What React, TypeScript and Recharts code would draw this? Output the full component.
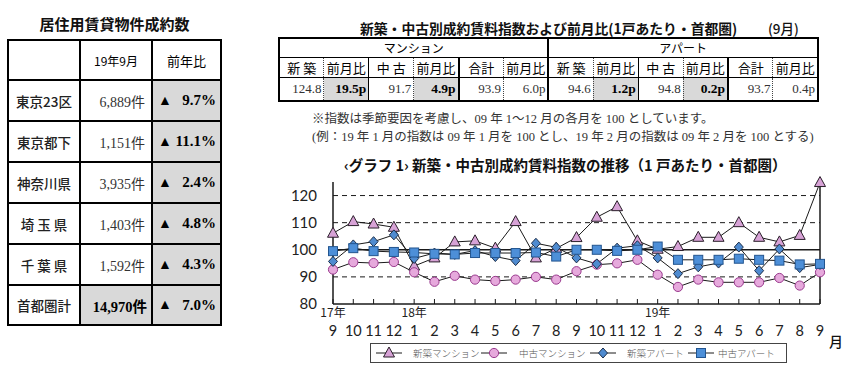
import React from 'react';
import { LineChart, Line, XAxis, YAxis, ReferenceLine } from 'recharts';

// months along the x axis, 17/9 .. 19/9
const months = ['9', '10', '11', '12', '1', '2', '3', '4', '5', '6', '7', '8', '9', '10', '11', '12', '1', '2', '3', '4', '5', '6', '7', '8', '9'];
const yearTickIdx = [0, 4, 16];
const yearTickText = ['17年', '18年', '19年'];
const yTicks = [80, 90, 100, 110, 120];

const shinchikuMansion = [106.1, 110.4, 109.5, 108.3, 94.0, 97.0, 102.9, 103.3, 100.6, 110.4, 97.0, 100.5, 104.5, 112.0, 115.9, 103.3, 100.2, 101.2, 104.6, 104.6, 110.0, 104.6, 102.9, 105.3, 124.8];
const chukoMansion = [92.7, 95.4, 95.1, 95.5, 91.7, 88.2, 90.4, 89.0, 88.5, 89.0, 90.0, 89.0, 92.1, 94.5, 95.0, 96.3, 90.8, 86.3, 89.0, 88.0, 88.0, 88.0, 89.6, 86.8, 91.7];
const shinchikuApart = [95.7, 101.8, 103.0, 105.5, 96.8, 98.8, 98.3, 99.7, 97.5, 96.0, 102.4, 100.9, 97.0, 94.8, 100.6, 101.5, 97.0, 91.2, 93.7, 95.1, 101.0, 92.3, 100.3, 93.4, 94.6];
const chukoApart = [99.5, 100.6, 99.5, 99.2, 99.0, 98.5, 98.3, 98.8, 98.8, 98.8, 99.0, 97.5, 100.0, 100.0, 99.6, 100.0, 101.2, 96.3, 96.3, 96.3, 96.7, 96.3, 96.0, 94.6, 94.8];

const seriesNames = ['新築マンション', '中古マンション', '新築アパート', '中古アパート'];

// left table
const areas = ['東京23区', '東京都下', '神奈川県', '埼 玉 県', '千 葉 県'];
const contracts = ['6,889件', '1,151件', '3,935件', '1,403件', '1,592件'];
const yoy = ['9.7%', '11.1%', '2.4%', '4.8%', '4.3%'];
const totalContracts = '14,970件';
const totalYoy = '7.0%';

// right table
const idxHeads = ['新 築', '前月比', '中 古', '前月比', '合計', '前月比', '新 築', '前月比', '中 古', '前月比', '合計', '前月比'];
const idxValues = ['124.8', '19.5p', '91.7', '4.9p', '93.9', '6.0p', '94.6', '1.2p', '94.8', '0.2p', '93.7', '0.4p'];
const idxBold = [false, true, false, true, false, false, false, true, false, true, false, false];

const data = months.map((m, i) => ({
  idx: i,
  sm: shinchikuMansion[i],
  cm: chukoMansion[i],
  sa: shinchikuApart[i],
  ca: chukoApart[i],
}));

const GOTHIC = '"Noto Sans CJK JP", "Noto Sans", sans-serif';
const MINCHO = '"Liberation Serif", "Noto Sans CJK JP", serif';
const LINE = '#1a1a1a';

const COL = {
  tri: '#d7a2d6',
  circ: '#e6a9dc',
  circStroke: '#9a3a8e',
  dia: '#4f8bd0',
  sq: '#4d8fd8',
  sqStroke: '#23558f',
};

const triShape = (cx: number, cy: number, key?: string) => (
  <path key={key} d={`M${cx},${cy - 6}L${cx + 5.5},${cy + 4}L${cx - 5.5},${cy + 4}Z`} fill={COL.tri} stroke="#2a1f2a" strokeWidth={1} />
);
const circShape = (cx: number, cy: number, key?: string) => (
  <circle key={key} cx={cx} cy={cy} r={4.6} fill={COL.circ} stroke={COL.circStroke} strokeWidth={1} />
);
const diaShape = (cx: number, cy: number, key?: string) => (
  <path key={key} d={`M${cx},${cy - 5}L${cx + 4.5},${cy}L${cx},${cy + 5}L${cx - 4.5},${cy}Z`} fill={COL.dia} stroke="#1d2f4a" strokeWidth={1} />
);
const sqShape = (cx: number, cy: number, key?: string) => (
  <rect key={key} x={cx - 4.5} y={cy - 4.5} width={9} height={9} fill={COL.sq} stroke={COL.sqStroke} strokeWidth={1} />
);
const shapes = [triShape, circShape, diaShape, sqShape];

const MonthTick = (props: any) => {
  const { x, y, payload } = props;
  const i = payload.value;
  const yi = yearTickIdx.indexOf(i);
  return (
    <g>
      <line x1={x} x2={x} y1={y - 5} y2={y} stroke={LINE} strokeWidth={1} />
      {yi >= 0 && (
        <text x={x} y={y + 13} textAnchor="middle" fontSize={12} fill="#222" fontFamily={GOTHIC}>
          {yearTickText[yi]}
        </text>
      )}
      <text x={x} y={y + 31.5} textAnchor="middle" fontSize={14.5} fill="#222" fontFamily='Lato, "Noto Sans", sans-serif'>
        {months[i]}
      </text>
    </g>
  );
};

const cell: React.CSSProperties = {
  border: '2px solid #000',
  padding: 0,
  boxSizing: 'border-box',
};

function LeftTable() {
  return (
    <div style={{ position: 'absolute', left: 0, top: 0 }}>
      <div style={{ position: 'absolute', left: 7, top: 13, width: 215, textAlign: 'center', fontFamily: GOTHIC, fontWeight: 700, fontSize: 15, color: '#111' }}>
        居住用賃貸物件成約数
      </div>
      <table style={{ position: 'absolute', left: 7, top: 39, width: 215, height: 285, borderCollapse: 'collapse', tableLayout: 'fixed' }}>
        <tbody>
          <tr style={{ height: 40 }}>
            <td style={{ ...cell, width: 72 }} />
            <td style={{ ...cell, width: 72, textAlign: 'center', fontFamily: GOTHIC, fontSize: 12 }}>19年9月</td>
            <td style={{ ...cell, textAlign: 'center', fontFamily: GOTHIC, fontSize: 13 }}>前年比</td>
          </tr>
          {areas.map((a, i) => (
            <tr key={a} style={{ height: 41 }}>
              <td style={{ ...cell, textAlign: 'center', fontFamily: GOTHIC, fontSize: 13.5, fontWeight: 500, color: '#222' }}>{a}</td>
              <td style={{ ...cell, textAlign: 'right', paddingRight: 6, fontFamily: MINCHO, fontSize: 14, color: '#333' }}>{contracts[i]}</td>
              <td style={{ ...cell, background: '#d9d9d9', fontFamily: MINCHO, fontSize: 15, fontWeight: 700 }}>
                <div style={{ display: 'flex', justifyContent: 'space-between', alignItems: 'center', padding: '0 4px 0 5px' }}>
                  <span style={{ fontSize: 14 }}>▲</span>
                  <span>{yoy[i]}</span>
                </div>
              </td>
            </tr>
          ))}
          <tr style={{ height: 40 }}>
            <td style={{ ...cell, textAlign: 'center', fontFamily: GOTHIC, fontSize: 13.5, fontWeight: 500, color: '#222' }}>首都圏計</td>
            <td style={{ ...cell, background: '#d9d9d9', textAlign: 'right', paddingRight: 4, fontFamily: MINCHO, fontSize: 14.5, fontWeight: 700 }}>{totalContracts}</td>
            <td style={{ ...cell, background: '#d9d9d9', fontFamily: MINCHO, fontSize: 15, fontWeight: 700 }}>
              <div style={{ display: 'flex', justifyContent: 'space-between', alignItems: 'center', padding: '0 4px 0 5px' }}>
                <span style={{ fontSize: 14 }}>▲</span>
                <span>{totalYoy}</span>
              </div>
            </td>
          </tr>
        </tbody>
      </table>
    </div>
  );
}

function RightTable() {
  const thin = '1px solid #000';
  const thick = '2px solid #000';
  const dot = '1px dotted #444';
  const vline = (i: number) => (i === 0 ? undefined : i % 2 === 1 ? dot : i === 6 ? thick : i % 6 === 4 ? thick : thin);
  return (
    <div style={{ position: 'absolute', left: 0, top: 0 }}>
      <div style={{ position: 'absolute', left: 360, top: 18, fontFamily: GOTHIC, fontWeight: 700, fontSize: 13.8, color: '#111', whiteSpace: 'nowrap' }}>
        新築・中古別成約賃料指数および前月比(1戸あたり・首都圏)
      </div>
      <div style={{ position: 'absolute', left: 768, top: 18, fontFamily: GOTHIC, fontWeight: 500, fontSize: 13.5, color: '#111', whiteSpace: 'nowrap' }}>(9月)</div>
      <table style={{ position: 'absolute', left: 278, top: 37, width: 541, height: 64, borderCollapse: 'collapse', tableLayout: 'fixed', border: thick }}>
        <tbody>
          <tr style={{ height: 19 }}>
            <td colSpan={6} style={{ borderRight: thick, borderBottom: thin, textAlign: 'center', fontFamily: GOTHIC, fontSize: 12, padding: 0 }}>マンション</td>
            <td colSpan={6} style={{ borderBottom: thin, textAlign: 'center', fontFamily: GOTHIC, fontSize: 12, padding: 0 }}>アパート</td>
          </tr>
          <tr style={{ height: 20 }}>
            {idxHeads.map((h, i) => (
              <td key={i} style={{ padding: 0, textAlign: 'center', fontFamily: GOTHIC, fontSize: 13, borderBottom: thin, borderLeft: vline(i) }}>
                {h}
              </td>
            ))}
          </tr>
          <tr style={{ height: 24 }}>
            {idxValues.map((v, i) => (
              <td
                key={i}
                style={{
                  padding: '0 2px 0 0',
                  textAlign: 'right',
                  fontFamily: MINCHO,
                  fontSize: idxBold[i] ? 13.5 : 13,
                  fontWeight: idxBold[i] ? 700 : 400,
                  color: idxBold[i] ? '#000' : '#333',
                  background: idxBold[i] ? '#d9d9d9' : undefined,
                  borderLeft: vline(i),
                }}
              >
                {v}
              </td>
            ))}
          </tr>
        </tbody>
      </table>
      <div style={{ position: 'absolute', left: 312, top: 108, fontFamily: MINCHO, fontSize: 12.5, color: '#333', whiteSpace: 'nowrap' }}>
        ※指数は季節要因を考慮し、09 年 1～12 月の各月を 100 としています。
      </div>
      <div style={{ position: 'absolute', left: 312, top: 126, fontFamily: MINCHO, fontSize: 12.5, color: '#333', whiteSpace: 'nowrap' }}>
        (例：19 年 1 月の指数は 09 年 1 月を 100 とし、19 年 2 月の指数は 09 年 2 月を 100 とする)
      </div>
    </div>
  );
}

// legend item positions: icon centre and text start (page pixels)
const legendIcon = [388, 493, 602, 700];
const legendText = [412, 518, 626, 717];

function ChartLegend() {
  return (
    <div style={{ position: 'absolute', left: 370, top: 343, width: 417, height: 20, border: '1px solid #444', boxSizing: 'border-box' }}>
      {seriesNames.map((n, i) => (
        <React.Fragment key={n}>
          <svg style={{ position: 'absolute', left: legendIcon[i] - 370 - 13, top: 2 }} width={26} height={14}>
            <line x1={0} x2={26} y1={7} y2={7} stroke={LINE} strokeWidth={1} />
            {shapes[i](13, 7)}
          </svg>
          <span
            style={{
              position: 'absolute',
              left: legendText[i] - 370,
              top: 2,
              lineHeight: '14px',
              fontFamily: GOTHIC,
              fontSize: 9.5,
              fontWeight: 300,
              color: '#555',
              whiteSpace: 'nowrap',
            }}
          >
            {n}
          </span>
        </React.Fragment>
      ))}
    </div>
  );
}

export default function App() {
  const keys = ['sm', 'cm', 'sa', 'ca'];
  return (
    <div style={{ position: 'absolute', left: 0, top: 0, width: 846, height: 371, background: '#fff', overflow: 'hidden' }}>
      <LeftTable />
      <RightTable />
      <div style={{ position: 'absolute', left: 344, top: 154, fontFamily: GOTHIC, fontWeight: 700, fontSize: 14.5, color: '#111', whiteSpace: 'nowrap' }}>
        ‹グラフ 1› 新築・中古別成約賃料指数の推移（1 戸あたり・首都圏）
      </div>
      <div style={{ position: 'absolute', left: 280, top: 150 }}>
        <LineChart width={566} height={221} data={data} margin={{ top: 32, right: 26, left: 13, bottom: 27 }}>
          <XAxis
            type="number"
            dataKey="idx"
            domain={[0, 24]}
            ticks={data.map((d) => d.idx)}
            interval={0}
            height={40}
            tickSize={0}
            tickMargin={0}
            tickLine={false}
            axisLine={{ stroke: LINE, strokeWidth: 1.5 }}
            tick={<MonthTick />}
          />
          <YAxis
            domain={[80, 125]}
            ticks={yTicks}
            width={40}
            tickSize={0}
            tickMargin={16}
            tickLine={false}
            axisLine={{ stroke: LINE, strokeWidth: 1.5 }}
            tick={{ fill: '#222', fontSize: 15, fontFamily: 'Lato, "Noto Sans", sans-serif' }}
          />
          <ReferenceLine y={90} stroke={LINE} strokeDasharray="5 4" />
          <ReferenceLine y={110} stroke={LINE} strokeDasharray="5 4" />
          <ReferenceLine y={120} stroke={LINE} strokeDasharray="5 4" />
          <ReferenceLine y={100} stroke={LINE} strokeWidth={1.5} />
          <ReferenceLine x={24} stroke={LINE} strokeWidth={1.5} />
          {keys.map((k, si) => (
            <Line
              key={k}
              dataKey={k}
              name={seriesNames[si]}
              stroke={LINE}
              strokeWidth={1}
              isAnimationActive={false}
              dot={(p: any) => shapes[si](p.cx, p.cy, `${k}-${p.index}`)}
              activeDot={false}
            />
          ))}
        </LineChart>
      </div>
      <div style={{ position: 'absolute', left: 829, top: 331, fontFamily: GOTHIC, fontWeight: 500, fontSize: 14, color: '#111' }}>月</div>
      <ChartLegend />
    </div>
  );
}
